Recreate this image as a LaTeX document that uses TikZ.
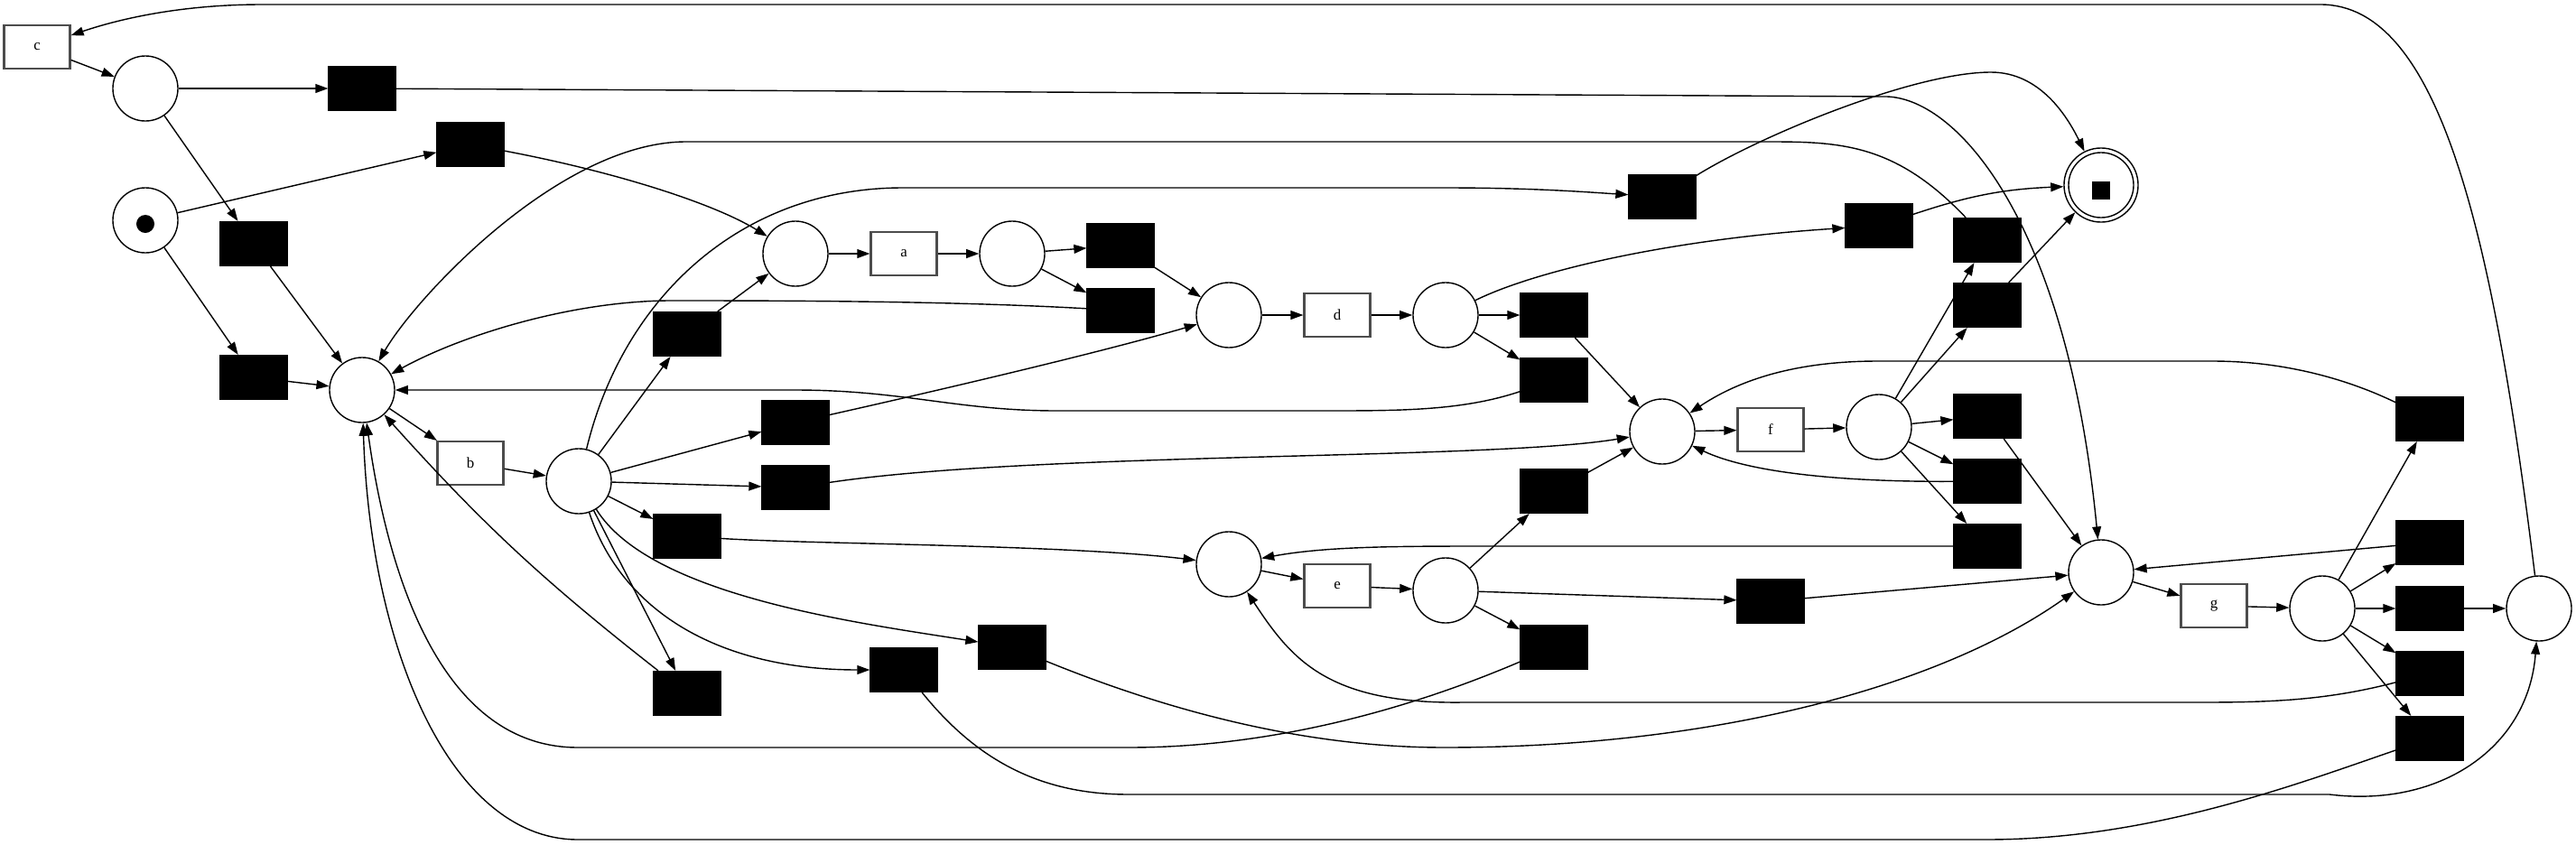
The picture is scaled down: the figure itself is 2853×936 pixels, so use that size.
\documentclass[tikz,border=0pt]{standalone}
\usepackage{fontspec}
\setmainfont{Liberation Serif}
\usepackage{tikz}
\usetikzlibrary{arrows.meta}

\begin{document}
\begin{tikzpicture}[
  x=0.01cm, y=-0.01cm,
  place/.style={draw, circle, minimum size=0.72cm, inner sep=0pt, line width=0.4pt},
  trans/.style={draw=black!70, line width=0.6pt, minimum width=0.73cm, minimum height=0.48cm, inner sep=0pt, font=\fontsize{4.8}{6}\selectfont},
  silent/.style={trans, draw=black, fill=black},
  token/.style={fill=black, circle, inner sep=0pt, minimum size=0.2cm},
  arr/.style={-{Triangle[length=4pt,width=2.8pt]}, line width=0.4pt}
]
\useasboundingbox (0,0) rectangle (2853,936);

\node[trans] (c) at (41,52) {c};
\node[place] (pc) at (161,98) {};
\node[place] (p0) at (161,244) {};
\node[token] (tok0) at (161,248) {};
\node[place] (p1) at (401,432) {};
\node[trans] (b) at (521,513) {b};
\node[place] (pb) at (641,533) {};
\node[place] (pa1) at (881,281) {};
\node[trans] (a) at (1001,281) {a};
\node[place] (pa2) at (1121,281) {};
\node[place] (pd1) at (1361,349) {};
\node[trans] (d) at (1481,349) {d};
\node[place] (pd2) at (1601,349) {};
\node[place] (pe1) at (1361,625) {};
\node[trans] (e) at (1481,649) {e};
\node[place] (pe2) at (1601,654) {};
\node[place] (pf1) at (1841,478) {};
\node[trans] (f) at (1961,476) {f};
\node[place] (pf2) at (2081,473) {};
\node[place] (pg1) at (2327,634) {};
\node[trans] (g) at (2452,671) {g};
\node[place] (pg2) at (2572,674) {};
\node[place] (pend) at (2812,674) {};
\node[place, minimum size=0.82cm] (fin) at (2327,205) {};
\node[place] (finin) at (fin) {};
\node[fill=black, inner sep=0pt, minimum size=0.2cm] (fintok) at (2327,211) {};

\node[silent] (s1) at (401,98) {};
\node[silent] (s2) at (521,160) {};
\node[silent] (s3) at (281,270) {};
\node[silent] (s4) at (281,418) {};
\node[silent] (s5) at (761,370) {};
\node[silent] (s6) at (881,468) {};
\node[silent] (s7) at (881,540) {};
\node[silent] (s8) at (761,594) {};
\node[silent] (s9) at (761,768) {};
\node[silent] (s10) at (1241,272) {};
\node[silent] (s11) at (1241,344) {};
\node[silent] (s12) at (1721,349) {};
\node[silent] (s13) at (1721,421) {};
\node[silent] (s14) at (1841,218) {};
\node[silent] (s15) at (1721,544) {};
\node[silent] (s16) at (1721,717) {};
\node[silent] (s17) at (1121,717) {};
\node[silent] (s18) at (1001,742) {};
\node[silent] (s19) at (2081,250) {};
\node[silent] (s20) at (2201,266) {};
\node[silent] (s21) at (2201,338) {};
\node[silent] (s22) at (2691,464) {};
\node[silent] (s23) at (2201,461) {};
\node[silent] (s24) at (2201,533) {};
\node[silent] (s25) at (2201,605) {};
\node[silent] (s26) at (1961,666) {};
\node[silent] (s27) at (2691,601) {};
\node[silent] (s28) at (2691,674) {};
\node[silent] (s29) at (2691,746) {};
\node[silent] (s30) at (2691,818) {};

\draw[arr] (c) -- (pc);
\draw[arr] (pc) -- (s1);
\draw[arr] (pc) -- (s3);
\draw[arr] (p0) -- (s2);
\draw[arr] (p0) -- (s4);
\draw[arr] (s3) -- (p1);
\draw[arr] (s4) -- (p1);
\draw[arr] (p1) -- (b);
\draw[arr] (b) -- (pb);
\draw[arr] (pb) -- (s5);
\draw[arr] (s5) -- (pa1);
\draw[arr] (pa1) -- (a);
\draw[arr] (a) -- (pa2);
\draw[arr] (pa2) -- (s10);
\draw[arr] (pa2) -- (s11);
\draw[arr] (s10) -- (pd1);
\draw[arr] (pb) -- (s6);
\draw[arr] (pb) -- (s7);
\draw[arr] (pb) -- (s8);
\draw[arr] (pb) -- (s9);
\draw[arr] (pd1) -- (d);
\draw[arr] (d) -- (pd2);
\draw[arr] (pd2) -- (s12);
\draw[arr] (pd2) -- (s13);
\draw[arr] (s12) -- (pf1);
\draw[arr] (pe1) -- (e);
\draw[arr] (e) -- (pe2);
\draw[arr] (pe2) -- (s15);
\draw[arr] (pe2) -- (s16);
\draw[arr] (pe2) -- (s26);
\draw[arr] (s15) -- (pf1);
\draw[arr] (pf1) -- (f);
\draw[arr] (f) -- (pf2);
\draw[arr] (pf2) -- (s20);
\draw[arr] (pf2) -- (s21);
\draw[arr] (pf2) -- (s23);
\draw[arr] (pf2) -- (s24);
\draw[arr] (pf2) -- (s25);
\draw[arr] (s21) -- (fin);
\draw[arr] (s23) -- (pg1);
\draw[arr] (s26) -- (pg1);
\draw[arr] (s27) -- (pg1);
\draw[arr] (pg1) -- (g);
\draw[arr] (g) -- (pg2);
\draw[arr] (pg2) -- (s22);
\draw[arr] (pg2) -- (s27);
\draw[arr] (pg2) -- (s28);
\draw[arr] (pg2) -- (s29);
\draw[arr] (pg2) -- (s30);
\draw[arr] (s28) -- (pend);

\draw[arr] (pend) .. controls (2760,250) and (2700,5) .. (2570,5) -- (290,5) .. controls (190,5) and (120,25) .. (c);
\draw[arr] (s1) -- (2090,107) .. controls (2170,110) and (2290,250) .. (pg1);
\draw[arr] (s2) .. controls (680,190) and (790,225) .. (pa1);
\draw[arr] (pb) .. controls (690,330) and (820,208) .. (1000,208) -- (1600,208) .. controls (1700,208) and (1760,213) .. (s14);
\draw[arr] (s20) .. controls (2100,160) and (2040,157) .. (1960,157) -- (760,157) .. controls (620,157) and (460,330) .. (p1);
\draw[arr] (s11) .. controls (1050,333) and (850,333) .. (740,333) .. controls (630,334) and (510,372) .. (p1);
\draw[arr] (s13) .. controls (1620,455) and (1550,455) .. (1470,455) -- (1170,455) .. controls (1060,455) and (1000,432) .. (880,432) -- (p1);
\draw[arr] (s6) .. controls (1050,430) and (1220,390) .. (pd1);
\draw[arr] (s7) .. controls (1150,500) and (1650,510) .. (pf1);
\draw[arr] (s8) .. controls (900,603) and (1180,603) .. (pe1);
\draw[arr] (s9) to[bend left=5] (p1);
\draw[arr] (pb) .. controls (720,660) and (950,690) .. (s17);
\draw[arr] (pb) .. controls (690,680) and (800,742) .. (s18);
\draw[arr] (s18) .. controls (1080,840) and (1150,880) .. (1250,880) -- (2580,880) .. controls (2700,895) and (2800,830) .. (pend);
\draw[arr] (s17) .. controls (1300,790) and (1450,828) .. (1600,828) .. controls (1900,828) and (2150,760) .. (pg1);
\draw[arr] (s16) .. controls (1550,790) and (1400,828) .. (1250,828) -- (640,828) .. controls (490,828) and (430,640) .. (p1);
\draw[arr] (s30) .. controls (2540,870) and (2380,930) .. (2200,930) -- (640,930) .. controls (500,930) and (410,720) .. (p1);
\draw[arr] (pd2) .. controls (1700,300) and (1850,265) .. (s19);
\draw[arr] (s14) .. controls (1950,150) and (2120,80) .. (2205,80) .. controls (2260,80) and (2290,130) .. (fin);
\draw[arr] (s19) to[bend left=8] (fin);
\draw[arr] (s22) .. controls (2600,420) and (2530,400) .. (2450,400) -- (2080,400) .. controls (1980,400) and (1920,425) .. (pf1);
\draw[arr] (s24) .. controls (2050,534) and (1940,525) .. (pf1);
\draw[arr] (s25) -- (1650,605) .. controls (1550,605) and (1470,605) .. (pe1);
\draw[arr] (s29) .. controls (2580,775) and (2520,778) .. (2440,778) -- (1620,778) .. controls (1470,780) and (1430,730) .. (pe1);

\end{tikzpicture}
\end{document}
